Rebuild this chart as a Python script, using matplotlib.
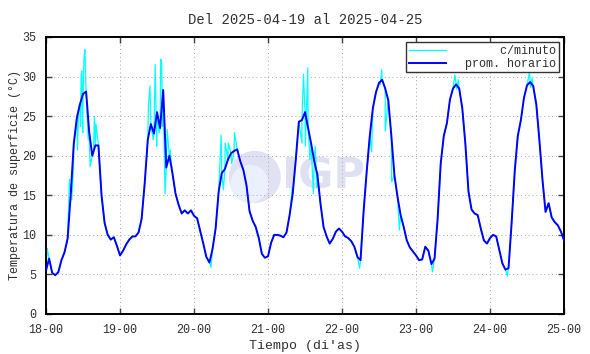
import numpy as np
import matplotlib
matplotlib.use("Agg")
import matplotlib.pyplot as plt
from matplotlib.patches import Ellipse

plt.rcParams['font.family'] = ['Liberation Mono', 'DejaVu Sans Mono']

# hourly means, one value per hour from 18-00 to 25-00
hourly = [
    5.5, 7.0, 5.2, 4.9, 5.3, 6.8, 7.8, 9.5, 15.0, 21.5, 24.8, 26.5,
    27.8, 28.1, 23.0, 20.0, 21.3, 21.3, 15.0, 11.5, 10.0, 9.4, 9.7, 8.6,
    7.4, 8.0, 8.8, 9.4, 9.8, 9.8, 10.3, 12.0, 16.5, 22.0, 24.0, 22.8,
    25.5, 23.5, 28.3, 18.5, 20.0, 17.8, 15.2, 13.8, 12.7, 13.1, 12.7, 13.1,
    12.4, 12.1, 10.5, 8.9, 7.2, 6.5, 8.2, 10.8, 15.5, 17.8, 18.3, 19.5,
    20.3, 20.6, 20.8, 19.3, 18.2, 16.3, 13.0, 11.8, 11.0, 9.6, 7.6, 7.1,
    7.3, 9.0, 10.0, 10.0, 9.9, 9.7, 10.3, 12.5, 15.2, 19.5, 24.3, 24.5,
    25.5, 23.5, 21.5, 19.3, 17.6, 14.0, 11.0, 9.8, 8.9, 9.5, 10.4, 10.8,
    10.4, 9.8, 9.6, 9.2, 8.5, 7.2, 6.8, 13.0, 18.0, 22.5, 26.0, 28.0,
    29.2, 29.6, 28.5, 27.0, 22.5, 17.5, 14.8, 12.5, 11.0, 9.3, 8.4, 7.9,
    7.4, 6.8, 6.9, 8.5, 8.0, 6.3, 7.0, 12.0, 19.0, 22.5, 24.1, 27.1,
    28.5, 29.0, 28.5, 26.0, 21.5, 15.5, 13.2, 12.7, 12.5, 10.8, 9.3, 8.9,
    9.6, 10.0, 9.8, 8.1, 6.4, 5.6, 5.8, 11.5, 18.0, 22.5, 24.5, 27.3,
    28.9, 29.3, 28.8, 26.5, 22.0, 17.0, 12.9, 14.0, 12.2, 11.6, 11.2, 10.4,
    9.3,
]

# extra per-minute excursions (hour, value)
spike_h = [0.4, 7.6, 8.3, 8.9, 10.2, 10.6, 11.2, 11.4, 11.6, 11.9, 12.3, 12.6,
           13.2, 13.7, 14.3, 15.4, 15.7, 16.2, 32.7, 33.2, 33.7, 34.8, 35.4,
           35.9, 36.7, 37.2, 37.5, 37.8, 38.6, 39.3, 40.2, 53.5, 56.8, 57.5,
           58.1, 59.1, 60.2, 61.1, 79.9, 83.0, 83.5, 84.1, 84.9, 85.6, 86.7,
           87.3, 87.8, 101.7, 105.6, 108.4, 108.9, 110.0, 112.1, 114.6, 125.3,
           132.6, 133.2, 133.7, 149.6, 156.8, 157.2, 157.6]
spike_v = [8.3, 17.0, 14.4, 18.2, 20.7, 26.2, 23.7, 30.3, 30.7, 22.9, 32.2, 33.4,
           26.2, 22.0, 18.6, 20.7, 25.0, 24.0, 20.3, 26.2, 28.8, 22.0, 31.5,
           21.2, 22.9, 32.2, 31.7, 23.7, 15.2, 23.3, 20.7, 5.9, 22.6, 15.7,
           21.6, 21.6, 19.0, 22.9, 16.0, 21.6, 30.3, 21.2, 31.1, 19.5, 15.2,
           21.2, 16.0, 5.8, 20.5, 29.0, 30.9, 23.1, 16.7, 10.6, 5.3,
           30.2, 28.4, 29.6, 4.8, 30.6, 28.6, 29.8]

day_ticks = [18, 19, 20, 21, 22, 23, 24, 25]
tick_labels = [f"{d}-00" for d in day_ticks]

hours = np.arange(len(hourly))
t_hour = 18 + hours / 24.0
t_min = np.concatenate([hours, spike_h])
v_min = np.concatenate([hourly, spike_v])
order = np.argsort(t_min)
t_min = 18 + t_min[order] / 24.0
v_min = v_min[order]

fig = plt.figure(figsize=(5.9, 3.54), dpi=100)
ax = fig.add_axes([0.078, 0.113, 0.878, 0.7825])

# watermark logo
ax.add_patch(Ellipse((0.403, 0.495), 52 / 518, 52 / 277, transform=ax.transAxes,
                     fc='#e1e1f4', ec='none', zorder=0))
ax.add_patch(Ellipse((0.393, 0.47), 38 / 518, 38 / 277, transform=ax.transAxes,
                     fc='#eaf1fd', ec='none', zorder=0))
ax.text(0.535, 0.495, "IGP", transform=ax.transAxes, ha='center', va='center',
        fontsize=31, fontweight='bold', family='DejaVu Sans', color='#e0e0f3',
        zorder=0)

ax.plot(t_min, v_min, color='#00ffff', lw=0.9, label='     c/minuto', zorder=2)
ax.plot(t_hour, hourly, color='#0000ff', lw=1.4, label='prom. horario', zorder=3)

ax.set_xlim(18, 25)
ax.set_ylim(0, 35)
ax.set_xticks(day_ticks)
ax.set_xticklabels(tick_labels)
ax.set_yticks(range(0, 36, 5))
ax.tick_params(direction='in', top=True, right=True, length=4, width=1,
               labelsize=8.5, colors='#404040', labelcolor='#303030')
ax.tick_params(axis='x', pad=7)
ax.tick_params(axis='y', pad=7)
ax.grid(True, color='#a8a8a8', lw=0.7, linestyle=(0, (1, 3)), zorder=1)
ax.set_axisbelow(True)
for s in ax.spines.values():
    s.set_linewidth(1.4)
    s.set_color('black')

ax.set_title("Del 2025-04-19 al 2025-04-25", fontsize=10, color='#303030', pad=9)
ax.set_xlabel("Tiempo (di'as)", fontsize=9.5, color='#303030', labelpad=3)
ax.set_ylabel("Temperatura de superficie (°C)", fontsize=8.5, color='#303030',
              labelpad=1)

leg = ax.legend(loc='upper right', fontsize=8.5, handlelength=3.2,
                fancybox=False, framealpha=1, edgecolor='#333333',
                borderpad=0.2, labelspacing=0.1, borderaxespad=0.45,
                handletextpad=1.6)
leg.get_frame().set_linewidth(1.0)
for t in leg.get_texts():
    t.set_color('#303030')

fig.savefig("out.png", dpi=100)
